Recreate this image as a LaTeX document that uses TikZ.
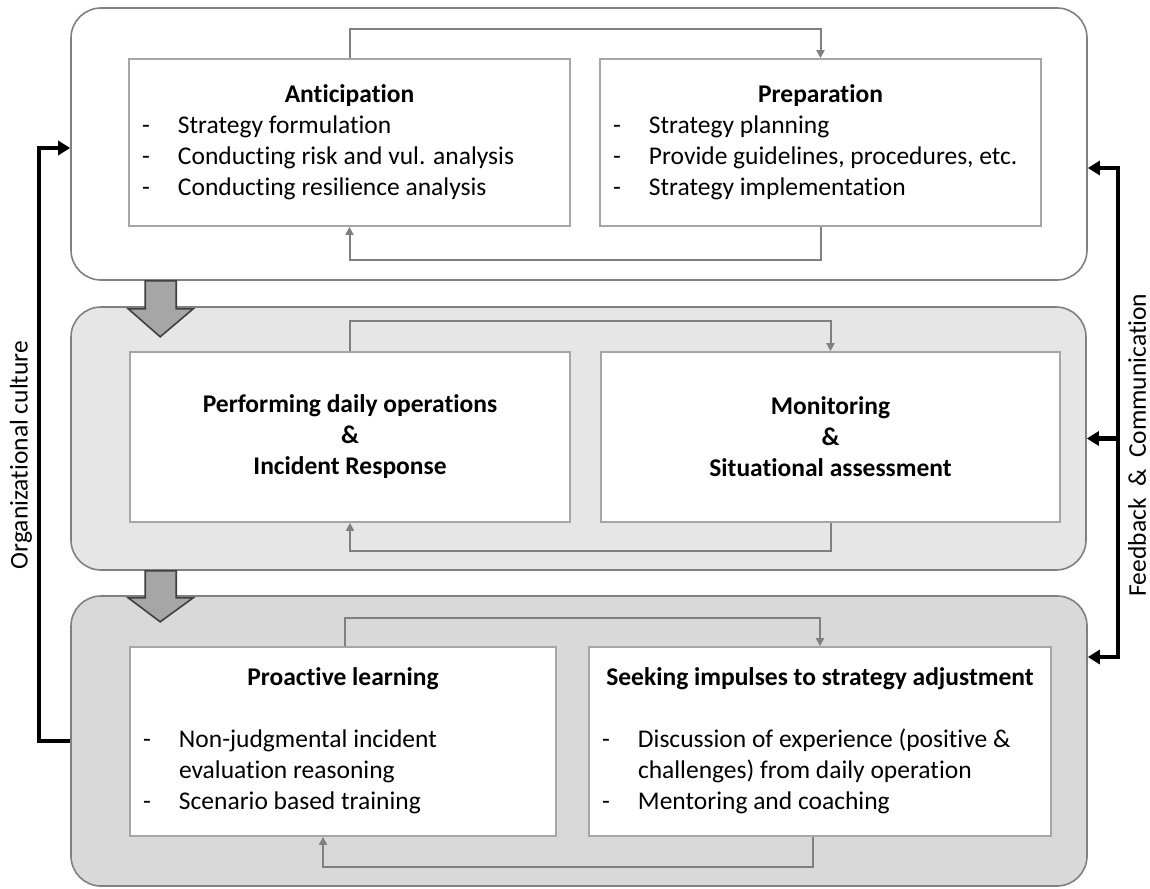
\documentclass[tikz,border=0pt]{standalone}
\usepackage{fontspec}
\setmainfont{Carlito}[Ligatures=CommonOff]
\usetikzlibrary{arrows.meta,calc}
\definecolor{outline}{HTML}{808080}
\definecolor{inline}{HTML}{A6A6A6}
\definecolor{midfill}{HTML}{E6E6E6}
\definecolor{botfill}{HTML}{D9D9D9}
\definecolor{arrowfill}{HTML}{A6A6A6}
\newcommand{\diagfont}{\fontsize{12.75}{15.5}\selectfont}
\newcommand{\boxhead}[2]{\multicolumn{2}{@{}l@{}}{\makebox[#1][c]{\bfseries #2}}}

\begin{document}
\begin{tikzpicture}[x=0.5pt,y=0.5pt,font=\diagfont,
  stage/.style={draw=outline,line width=0.8pt,rounded corners=15pt,minimum width=508pt,inner sep=0pt},
  inbox/.style={draw=inline,line width=0.9pt,fill=white,inner sep=0pt},
  headfont/.style={font=\diagfont\bfseries},
  looptip/.tip={Triangle[length=4pt,width=4pt]},
  fbtip/.tip={Triangle[length=6pt,width=7pt]},
  loop/.style={draw=outline,line width=1pt},
  fb/.style={line width=2.2pt},
  bigarrow/.style={draw=black!75,fill=arrowfill,line width=0.8pt}]
\useasboundingbox (0,0) rectangle (1150,-888);

\node[stage,fill=white,minimum height=136pt] (topbox) at (579,-144) {};
\node[stage,fill=midfill,minimum width=507.5pt,minimum height=131.5pt] (midbox) at (578.5,-438.5) {};
\node[stage,fill=botfill,minimum height=145pt] (botbox) at (579,-741) {};

\node[inbox,minimum width=220.5pt,minimum height=83.5pt] (antic) at (349.5,-142.5) {%
  \begin{tabular}{@{}p{18pt}@{}p{189.5pt}@{}}
  \boxhead{207.5pt}{Anticipation}\\
  - & Strategy formulation\\
  - & Conducting risk and vul. analysis\\
  - & Conducting resilience analysis
  \end{tabular}};
\node[inbox,minimum width=220.5pt,minimum height=83.5pt] (prep) at (820.5,-142.5) {%
  \begin{tabular}{@{}p{18pt}@{}p{189.5pt}@{}}
  \boxhead{207.5pt}{Preparation}\\
  - & Strategy planning\\
  - & Provide guidelines, procedures, etc.\\
  - & Strategy implementation
  \end{tabular}};

\node[inbox,headfont,align=center,minimum width=220pt,minimum height=85pt] (daily) at (350,-437)
  {Performing daily operations\\ \&\\ Incident Response};
\node[inbox,headfont,align=center,minimum width=229.5pt,minimum height=85pt] (monit) at (830.5,-437)
  {Monitoring\\ \&\\ Situational assessment};

\node[inbox,minimum width=213pt,minimum height=94.5pt] (proact) at (343,-741.5) {%
  \begin{tabular}{@{}p{18pt}@{}p{182pt}@{}}
  \boxhead{200pt}{Proactive learning}\\
  \\
  - & Non-judgmental incident\\
    & evaluation reasoning\\
  - & Scenario based training
  \end{tabular}};
\node[inbox,minimum width=231pt,minimum height=94.5pt] (seek) at (820,-741.5) {%
  \begin{tabular}{@{}p{18pt}@{}p{200pt}@{}}
  \boxhead{218pt}{Seeking impulses to strategy adjustment}\\
  \\
  - & Discussion of experience (positive \&\\
    & challenges) from daily operation\\
  - & Mentoring and coaching
  \end{tabular}};

\draw[loop,-looptip] (antic.north) -- ++(0,29) -| (prep.north);
\draw[loop,-looptip] (prep.south) -- ++(0,-33) -| (antic.south);
\draw[loop,-looptip] (daily.north) -- ++(0,30) -| (monit.north);
\draw[loop,-looptip] (monit.south) -- ++(0,-28) -| (daily.south);
\draw[loop,-looptip] ([xshift=1pt]proact.north) -- ++(0,28) -| (seek.north);
\draw[loop,-looptip] ([xshift=-3.5pt]seek.south) -- ++(0,-30) -| ([xshift=-10pt]proact.south);

\draw[bigarrow] ($(topbox.south west)+(75,0)$) -- ++(31,0) -- ++(0,-28) -- ++(17,0) -- ++(-33,-28) -- ++(-32,28) -- ++(17,0) -- cycle;
\draw[bigarrow] ($(midbox.south west)+(75,0)$) -- ++(31,0) -- ++(0,-27) -- ++(17,0) -- ++(-33,-24) -- ++(-32,24) -- ++(17,0) -- cycle;

\draw[fb,-fbtip] (botbox.west) -- ++(-31,0) |- ([yshift=-2pt]topbox.west);
\draw[fb,fbtip-fbtip] ([yshift=-12pt]topbox.east) -- ++(30,0) |- ([yshift=42pt]botbox.east);
\draw[fb,fbtip-] (midbox.east) -- ++(31,0);

\node[rotate=90] (orgcult) at (21,-455) {Organizational culture};
\node[rotate=90] (fbcomm) at (1137,-445) {Feedback~~\&~~Communication};
\end{tikzpicture}
\end{document}
